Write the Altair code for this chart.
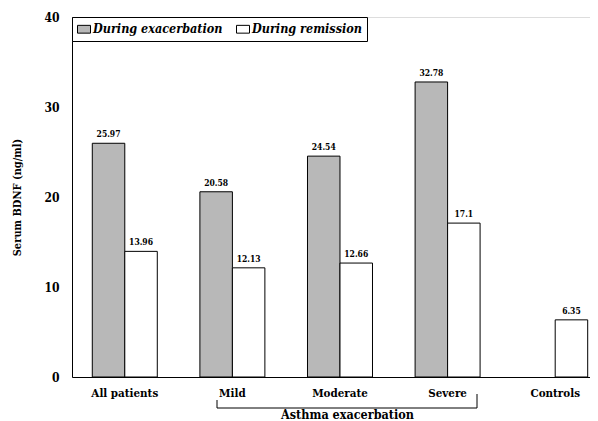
import altair as alt
import pandas as pd

groups = ["All patients", "Mild", "Moderate", "Severe", "Controls"]
series = ["During exacerbation", "During remission"]
exacerbation = [25.97, 20.58, 24.54, 32.78, None]
remission = [13.96, 12.13, 12.66, 17.1, 6.35]
y_ticks = [0, 10, 20, 30, 40]

rows = []
for g, e, r in zip(groups, exacerbation, remission):
    if e is not None:
        rows.append({"group": g, "phase": series[0], "value": e, "label": f"{e:g}"})
    if r is not None:
        rows.append({"group": g, "phase": series[1], "value": r, "label": f"{r:g}"})
df = pd.DataFrame(rows)

FONT = "'DejaVu Serif Condensed', 'DejaVu Serif', serif"

x_enc = alt.X(
    "group:N",
    sort=groups,
    scale=alt.Scale(paddingInner=0.396, paddingOuter=0.105, align=0.898),
    axis=alt.Axis(
        title="Asthma exacerbation",
        titleX=275, titleY=31,
        titleFont=FONT, titleFontSize=12.5, titleFontWeight="bold", titleColor="black",
        labelAngle=0, labelFont=FONT, labelFontSize=11.5, labelFontWeight="bold",
        labelColor="black", labelPadding=10, ticks=False,
        domainColor="black", domainWidth=1,
    ),
)
xo_enc = alt.XOffset("phase:N", sort=series, scale=alt.Scale(domain=series))
y_enc = alt.Y(
    "value:Q",
    scale=alt.Scale(domain=[0, 40], nice=False),
    axis=alt.Axis(
        title="Serum BDNF (ng/ml)", values=y_ticks, grid=False, ticks=False,
        labelFont=FONT, labelFontSize=12, labelFontWeight="bold", labelColor="black",
        labelPadding=13, titleFont=FONT, titleFontSize=11, titleFontWeight="bold",
        titleColor="black", titlePadding=21, domainColor="black", domainWidth=1,
    ),
)

bars = alt.Chart(df).mark_bar(stroke="black", strokeWidth=1, opacity=1).encode(
    x=x_enc,
    xOffset=xo_enc,
    y=y_enc,
    fill=alt.Fill(
        "phase:N",
        sort=series,
        scale=alt.Scale(domain=series, range=["#b8b8b8", "white"]),
        legend=alt.Legend(
            title=None, orient="none", legendX=0, legendY=0, direction="horizontal",
            strokeColor="black", padding=5, fillColor="white",
            symbolType="M-1,-0.6H1V0.6H-1Z", symbolSize=169,
            symbolStrokeColor="black", symbolStrokeWidth=1, symbolOpacity=1,
            labelFont=FONT, labelFontSize=12.5, labelFontStyle="italic",
            labelFontWeight="bold", labelColor="black", labelOffset=2,
            columnPadding=11, labelLimit=400,
            labelExpr="datum.label == 'During remission' ? datum.label + '\u00a0\u00a0\u00a0\u00a0\u00a0' : datum.label",
        ),
    ),
)

labels = alt.Chart(df).mark_text(
    font=FONT, fontSize=8.5, fontWeight="bold", color="black",
    baseline="alphabetic", dy=-6,
).encode(x=x_enc, xOffset=xo_enc, y=y_enc, text="label:N")

one = alt.Data(values=[{"k": 1}])
br_left = alt.Chart(one).mark_rule(color="black", strokeWidth=1).encode(
    x=alt.value(145), y=alt.value(383), y2=alt.value(391))
br_mid = alt.Chart(one).mark_rule(color="black", strokeWidth=1).encode(
    x=alt.value(145), x2=alt.value(405), y=alt.value(391))
br_right = alt.Chart(one).mark_rule(color="black", strokeWidth=1).encode(
    x=alt.value(405), y=alt.value(377), y2=alt.value(391))

chart = alt.layer(bars, labels, br_left, br_mid, br_right).properties(
    width=518, height=360,
    autosize=alt.AutoSizeParams(type="none"),
    padding={"left": 64, "top": 9, "right": 0, "bottom": 44},
).configure_view(stroke=None).configure(background="white")

chart.save("out.html", embed_options={"renderer": "svg", "actions": False})
